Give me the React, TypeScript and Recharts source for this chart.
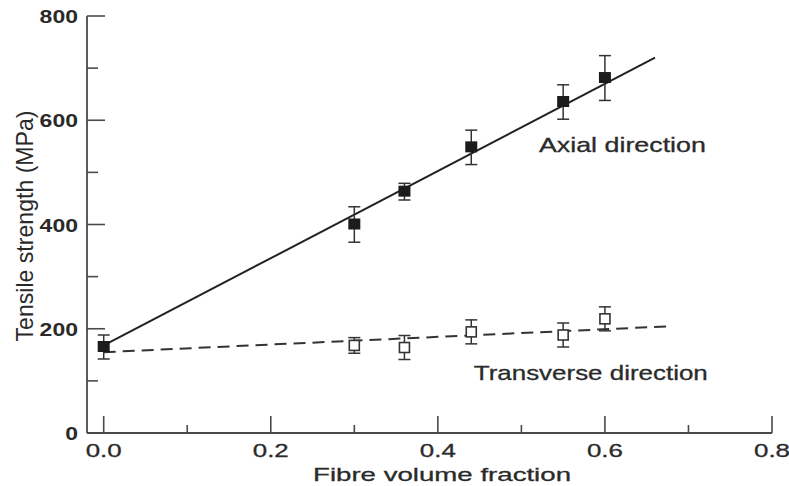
import {
  ComposedChart,
  ErrorBar,
  Line,
  ReferenceDot,
  Scatter,
  XAxis,
  YAxis,
} from "recharts";

const axialX = [0, 0.3, 0.36, 0.44, 0.55, 0.6];
const axialY = [165, 400, 463, 548, 635, 681];
const axialErr = [23, 34, 16, 33, 33, 43];

const transverseX = [0.3, 0.36, 0.44, 0.55, 0.6];
const transverseY = [168, 164, 194, 188, 219];
const transverseErr = [15, 23, 23, 23, 23];

const axialFitX = [0, 0.66];
const axialFitY = [168, 720];
const transverseFitX = [0, 0.68];
const transverseFitY = [155, 205];

const xTicks = [0, 0.1, 0.2, 0.3, 0.4, 0.5, 0.6, 0.7, 0.8];
const yTicks = [0, 100, 200, 300, 400, 500, 600, 700, 800];

const FONT = '"Liberation Sans", Arial, Helvetica, sans-serif';
const INK = "#2a2a2a";
const AXIS = "#4a4a4a";

const axialPts = axialX.map((x, i) => ({ x, y: axialY[i], err: axialErr[i] }));
const transversePts = transverseX.map((x, i) => ({
  x,
  y: transverseY[i],
  err: transverseErr[i],
}));
const axialFit = axialFitX.map((x, i) => ({ x, y: axialFitY[i] }));
const transverseFit = transverseFitX.map((x, i) => ({ x, y: transverseFitY[i] }));

function XTick(props: any) {
  const { x, y, payload } = props;
  const v = payload.value as number;
  const major = Math.round(v * 10) % 2 === 0;
  return (
    <g>
      <line x1={x} y1={y} x2={x} y2={y - (major ? 17 : 8)} stroke={AXIS} strokeWidth={1.6} />
      {major && (
        <text
          x={x}
          y={y + 24}
          textAnchor="middle"
          fontFamily={FONT}
          fontSize={19}
          fill={INK}
          stroke={INK}
          strokeWidth={0.3}
          textLength={36}
          lengthAdjust="spacingAndGlyphs"
        >
          {v.toFixed(1)}
        </text>
      )}
    </g>
  );
}

function YTick(props: any) {
  const { x, y, payload } = props;
  const v = payload.value as number;
  const major = v % 200 === 0;
  const label = String(v);
  return (
    <g>
      <line x1={x} y1={y} x2={x + (major ? 18 : 11)} y2={y} stroke={AXIS} strokeWidth={1.6} />
      {major && (
        <text
          x={x - 9}
          y={y + 7}
          textAnchor="end"
          fontFamily={FONT}
          fontSize={19}
          fontWeight={700}
          fill={INK}
          textLength={label.length * 12.8}
          lengthAdjust="spacingAndGlyphs"
        >
          {label}
        </text>
      )}
    </g>
  );
}

const FilledSquare = (p: any) => (
  <rect x={p.cx - 6} y={p.cy - 6} width={12} height={11} fill="#1c1c1c" />
);
const OpenSquare = (p: any) => (
  <rect x={p.cx - 5} y={p.cy - 5} width={10} height={10} fill="#fff" stroke="#333" strokeWidth={1.6} />
);

const note = (text: string, len: number) => (p: any) => (
  <text
    x={p.cx}
    y={p.cy}
    fontFamily={FONT}
    fontSize={21}
    fill={INK}
    stroke={INK}
    strokeWidth={0.3}
    textLength={len}
    lengthAdjust="spacingAndGlyphs"
  >
    {text}
  </text>
);

export default function App() {
  return (
    <div style={{ position: "absolute", left: 0, top: 0, width: 789, height: 486, background: "#fff" }}>
      <ComposedChart width={789} height={486} margin={{ top: 16, right: 17, bottom: 0, left: 0 }}>
        <XAxis
          type="number"
          dataKey="x"
          domain={[-0.02, 0.8]}
          allowDataOverflow
          ticks={xTicks}
          interval={0}
          height={53}
          tickSize={0}
          tickMargin={0}
          tickLine={false}
          tick={<XTick />}
          axisLine={{ stroke: AXIS, strokeWidth: 1.8 }}
          label={{
            content: (p: any) => (
              <text
                x={p.viewBox.x + 355}
                y={p.viewBox.y + 48}
                textAnchor="middle"
                fontFamily={FONT}
                fontSize={19}
                fill={INK}
                stroke={INK}
                strokeWidth={0.3}
                textLength={258}
                lengthAdjust="spacingAndGlyphs"
              >
                Fibre volume fraction
              </text>
            ),
          }}
        />
        <YAxis
          type="number"
          dataKey="y"
          domain={[0, 800]}
          allowDataOverflow
          ticks={yTicks}
          interval={0}
          width={87}
          tickSize={0}
          tickMargin={0}
          tickLine={false}
          tick={<YTick />}
          axisLine={{ stroke: AXIS, strokeWidth: 1.8 }}
          label={{
            content: () => (
              <text
                x={33}
                y={226}
                transform="rotate(-90, 33, 226)"
                textAnchor="middle"
                fontFamily={FONT}
                fontSize={24}
                fill={INK}
                textLength={231}
                lengthAdjust="spacingAndGlyphs"
              >
                Tensile strength (MPa)
              </text>
            ),
          }}
        />
        <Line
          data={axialFit}
          dataKey="y"
          type="linear"
          stroke="#222"
          strokeWidth={2}
          dot={false}
          activeDot={false}
          isAnimationActive={false}
        />
        <Line
          data={transverseFit}
          dataKey="y"
          type="linear"
          stroke="#333"
          strokeWidth={2}
          strokeDasharray="12 7"
          dot={false}
          activeDot={false}
          isAnimationActive={false}
        />
        <Scatter data={transversePts} dataKey="y" shape={OpenSquare} isAnimationActive={false}>
          <ErrorBar dataKey="err" direction="y" width={6} stroke="#333" strokeWidth={1.5} />
        </Scatter>
        <Scatter data={axialPts} dataKey="y" shape={FilledSquare} isAnimationActive={false}>
          <ErrorBar dataKey="err" direction="y" width={6} stroke="#333" strokeWidth={1.5} />
        </Scatter>
        <ReferenceDot x={0.521} y={539} r={0} shape={note("Axial direction", 167)} />
        <ReferenceDot x={0.443} y={102} r={0} shape={note("Transverse direction", 234)} />
      </ComposedChart>
    </div>
  );
}
